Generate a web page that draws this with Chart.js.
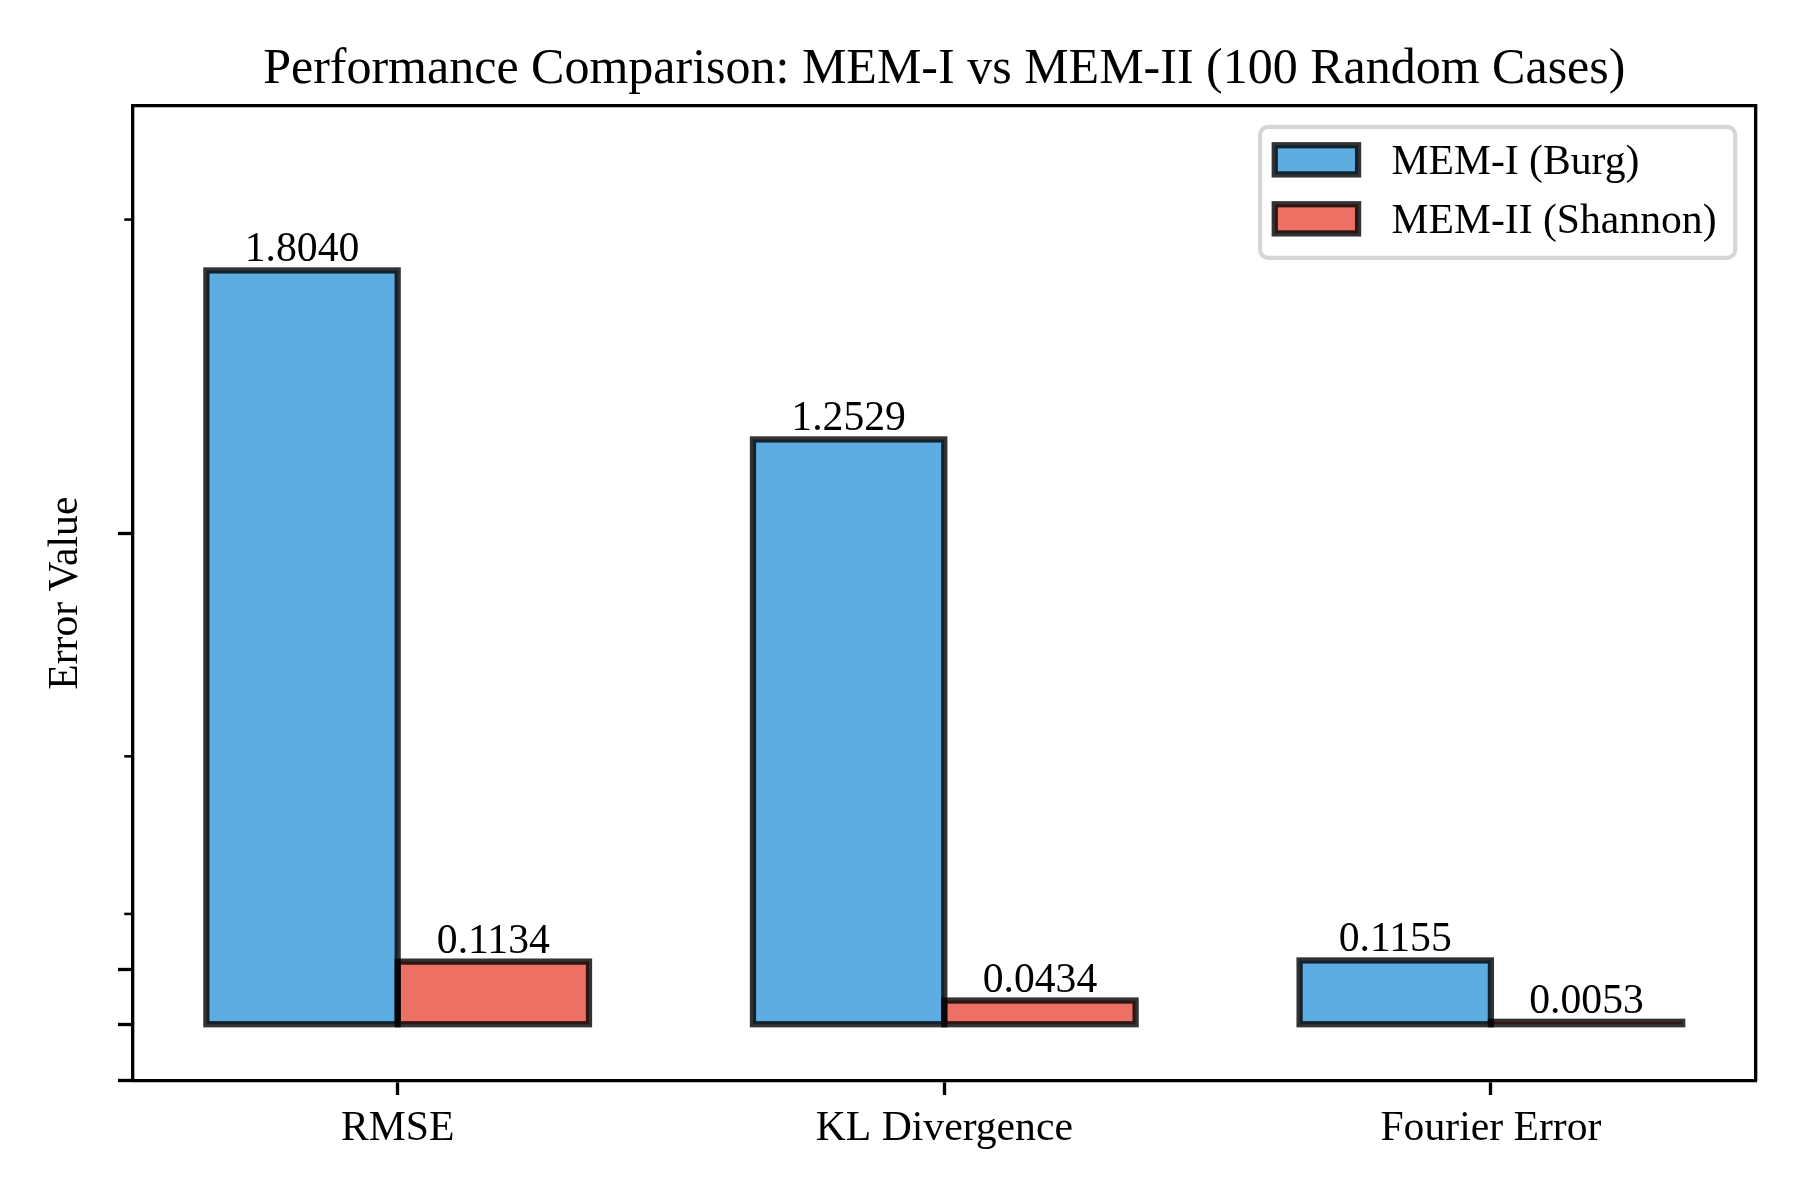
<!DOCTYPE html>
<html>
<head>
<meta charset="utf-8">
<script src="https://cdn.jsdelivr.net/npm/chart.js@4.4.1/dist/chart.umd.min.js"></script>
<style>
  html, body { margin: 0; padding: 0; background: #fff; }
  #wrap { width: 1800px; height: 1200px; position: relative; }
</style>
</head>
<body>
<div id="wrap"><canvas id="chart"></canvas></div>
<script>
// data
var categories = ['RMSE', 'KL Divergence', 'Fourier Error'];
var seriesNames = ['MEM-I (Burg)', 'MEM-II (Shannon)'];
var memOne = [1.8040, 1.2529, 0.1155];
var memTwo = [0.1134, 0.0434, 0.0053];
var yMajorTicks = [-0.1, 0, 0.1, 1];
var yMinorTicks = [0.2, 0.5, 2];
var yRange = [-0.1, 2.5];
var xRange = [-0.485, 2.485];

var FONT = '"Liberation Serif", "Times New Roman", serif';
var PT = 300 / 72; // matplotlib points -> px at 300 dpi
var BASE = 10 * PT;

// asinh axis (linear near zero, log-like further out)
class AsinhScale extends Chart.LinearScale {
  _ends() {
    return [Math.asinh(this.min), Math.asinh(this.max)];
  }
  getPixelForValue(value) {
    var e = this._ends();
    return this.getPixelForDecimal((Math.asinh(value) - e[0]) / (e[1] - e[0]));
  }
  getValueForPixel(pixel) {
    var e = this._ends();
    return Math.sinh(e[0] + this.getDecimalForPixel(pixel) * (e[1] - e[0]));
  }
}
AsinhScale.id = 'asinh';
AsinhScale.defaults = Chart.LinearScale.defaults;
Chart.register(AsinhScale);

function toPoints(values) {
  return values.map(function (v, i) {
    return { x: i, y: v };
  });
}

var barDecor = {
  id: 'barDecor',
  afterDatasetsDraw: function (chart) {
    var ctx = chart.ctx;
    ctx.save();
    chart.data.datasets.forEach(function (ds, di) {
      var meta = chart.getDatasetMeta(di);
      meta.data.forEach(function (el, i) {
        var p = el.getProps(['x', 'y', 'base', 'width'], true);
        ctx.lineWidth = 1.5 * PT;
        ctx.strokeStyle = 'rgba(0,0,0,0.8)';
        ctx.lineJoin = 'miter';
        ctx.strokeRect(p.x - p.width / 2, Math.min(p.y, p.base), p.width, Math.abs(p.base - p.y));
        ctx.fillStyle = '#000';
        ctx.font = BASE + 'px ' + FONT;
        ctx.textAlign = 'center';
        ctx.textBaseline = 'alphabetic';
        ctx.fillText(ds.data[i].y.toFixed(4), p.x, p.y - BASE * 0.216);
      });
    });
    ctx.restore();
  }
};

var minorTicks = {
  id: 'minorTicks',
  afterDraw: function (chart) {
    var s = chart.scales.y;
    var ctx = chart.ctx;
    ctx.save();
    ctx.strokeStyle = '#000';
    ctx.lineWidth = 0.6 * PT;
    yMinorTicks.forEach(function (v) {
      var py = s.getPixelForValue(v);
      ctx.beginPath();
      ctx.moveTo(chart.chartArea.left - 2 * PT, py);
      ctx.lineTo(chart.chartArea.left, py);
      ctx.stroke();
    });
    ctx.restore();
  }
};

var legendBox = {
  id: 'legendBox',
  afterDraw: function (chart) {
    var ctx = chart.ctx;
    var area = chart.chartArea;
    var sets = chart.data.datasets;
    ctx.save();
    ctx.font = BASE + 'px ' + FONT;
    var textW = Math.max.apply(null, sets.map(function (d) { return ctx.measureText(d.label).width; }));
    var pad = 0.4 * BASE, handleW = 2 * BASE, handleH = 0.7 * BASE, gap = 0.8 * BASE;
    var rowH = 59;
    var w = pad + handleW + gap + textW + pad;
    var h = 131;
    var left = area.right - 0.5 * BASE - w;
    var top = area.top + 0.5 * BASE;
    ctx.beginPath();
    ctx.roundRect(left, top, w, h, 8);
    ctx.fillStyle = 'rgba(255,255,255,0.8)';
    ctx.fill();
    ctx.lineWidth = 1 * PT;
    ctx.strokeStyle = 'rgba(204,204,204,0.8)';
    ctx.stroke();
    sets.forEach(function (d, i) {
      var cy = top + 33 + i * rowH;
      var hx = left + pad - 2;
      ctx.fillStyle = d.backgroundColor;
      ctx.fillRect(hx, cy - handleH / 2, handleW, handleH);
      ctx.lineWidth = 1.5 * PT;
      ctx.strokeStyle = 'rgba(0,0,0,0.8)';
      ctx.strokeRect(hx, cy - handleH / 2, handleW, handleH);
      ctx.fillStyle = '#000';
      ctx.textAlign = 'left';
      ctx.textBaseline = 'middle';
      ctx.fillText(d.label, hx + handleW + gap, cy + 3);
    });
    ctx.restore();
  }
};

Chart.defaults.font.family = FONT;
Chart.defaults.color = '#000';

new Chart(document.getElementById('chart'), {
  type: 'bar',
  data: {
    datasets: [
      {
        label: seriesNames[0],
        data: toPoints(memOne),
        backgroundColor: 'rgba(52,152,219,0.8)',
        borderWidth: 0
      },
      {
        label: seriesNames[1],
        data: toPoints(memTwo),
        backgroundColor: 'rgba(231,76,60,0.8)',
        borderWidth: 0
      }
    ]
  },
  plugins: [barDecor, minorTicks, legendBox],
  options: {
    responsive: true,
    maintainAspectRatio: false,
    animation: false,
    devicePixelRatio: 1,
    categoryPercentage: 0.7,
    barPercentage: 1.0,
    layout: { padding: { left: 41, right: 44, top: 10, bottom: 37 } },
    plugins: {
      legend: { display: false },
      tooltip: { enabled: false },
      title: {
        display: true,
        fullSize: false,
        text: 'Performance Comparison: MEM-I vs MEM-II (100 Random Cases)',
        font: { size: 12 * PT, weight: 'normal', family: FONT },
        color: '#000',
        padding: { top: 30, bottom: 6 }
      }
    },
    scales: {
      x: {
        type: 'linear',
        position: 'bottom',
        min: xRange[0],
        max: xRange[1],
        offset: false,
        grid: {
          offset: false,
          drawOnChartArea: false,
          tickLength: 3.5 * PT,
          tickWidth: 0.8 * PT,
          tickColor: '#000'
        },
        border: { color: '#000', width: 0.8 * PT },
        afterBuildTicks: function (scale) {
          scale.ticks = categories.map(function (c, i) { return { value: i }; });
        },
        ticks: {
          autoSkip: false,
          maxRotation: 0,
          padding: 9,
          font: { size: BASE, family: FONT },
          color: '#000',
          callback: function (v) { return categories[Math.round(v)]; }
        }
      },
      y: {
        type: 'asinh',
        position: 'left',
        min: yRange[0],
        max: yRange[1],
        grid: {
          drawOnChartArea: false,
          tickLength: 3.5 * PT,
          tickWidth: 0.8 * PT,
          tickColor: '#000'
        },
        border: { color: '#000', width: 0.8 * PT },
        afterBuildTicks: function (scale) {
          scale.ticks = yMajorTicks.map(function (v) { return { value: v }; });
        },
        ticks: { display: false, autoSkip: false },
        title: {
          display: true,
          text: 'Error Value',
          font: { size: BASE, family: FONT },
          color: '#000',
          padding: { top: 0, bottom: 27 }
        }
      },
      x2: {
        type: 'linear',
        position: 'top',
        min: 0,
        max: 1,
        grid: { drawOnChartArea: false, drawTicks: false },
        border: { color: '#000', width: 0.8 * PT },
        ticks: { display: false }
      },
      y2: {
        type: 'linear',
        position: 'right',
        min: 0,
        max: 1,
        grid: { drawOnChartArea: false, drawTicks: false },
        border: { color: '#000', width: 0.8 * PT },
        ticks: { display: false }
      }
    }
  }
});
</script>
</body>
</html>
